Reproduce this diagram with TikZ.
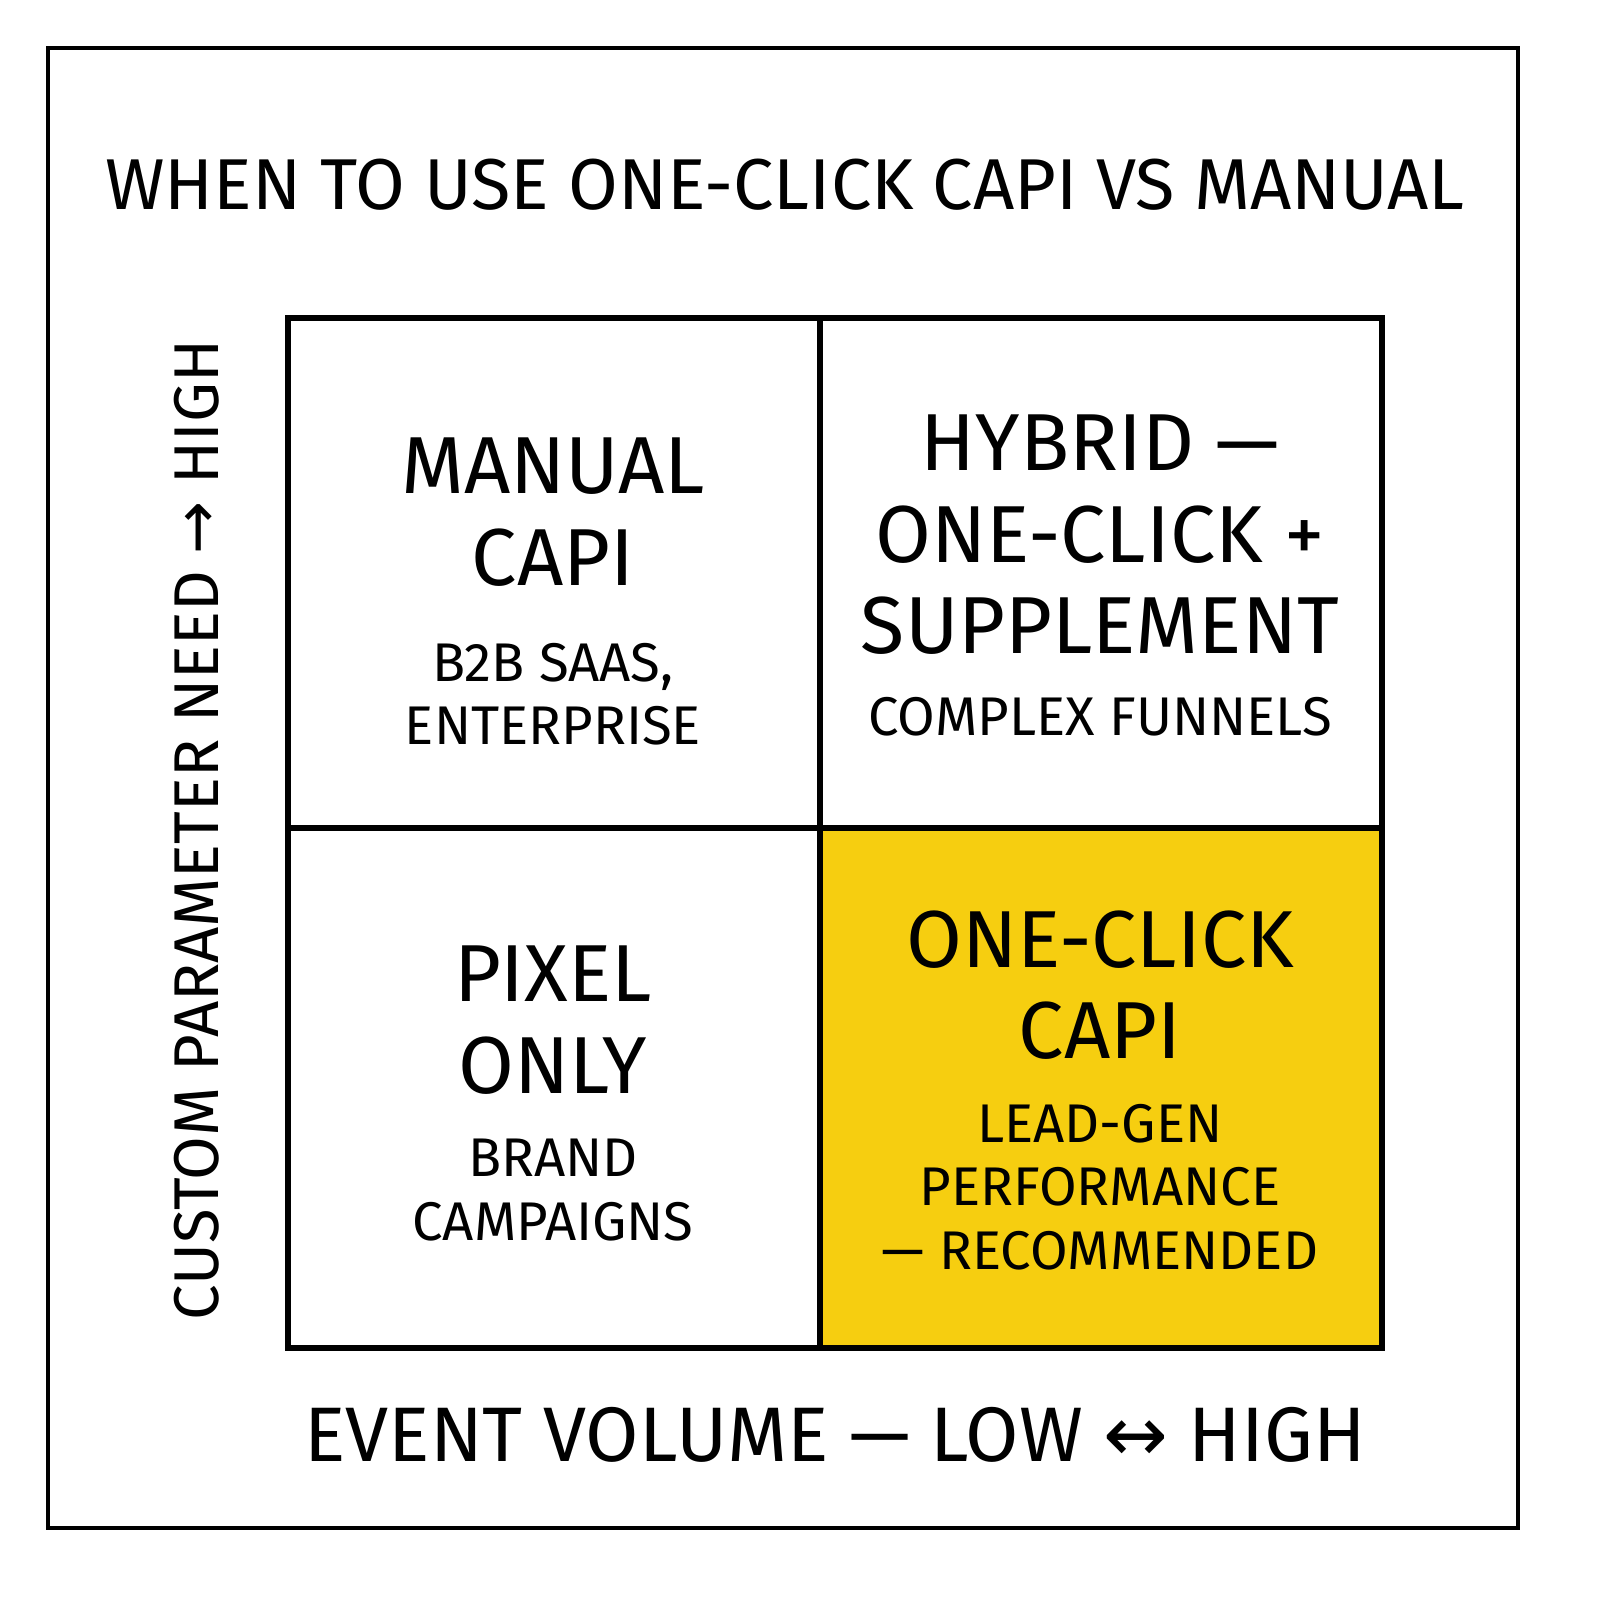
\documentclass[tikz,border=0pt]{standalone}
\usepackage{fontspec}
\setmainfont{Fira Sans}
\newfontfamily\arrowfont{DejaVu Sans}
\definecolor{pickyellow}{RGB}{246,206,16}
\tikzset{
  quadhead/.style={align=center,font=\fontsize{23}{26}\selectfont},
  quadsub/.style={align=center,font=\fontsize{15.5}{18}\selectfont},
  axislabel/.style={font=\fontsize{22}{26}\selectfont}
}
\begin{document}
\begin{tikzpicture}
				\useasboundingbox (0,0) rectangle (16,16);
				\fill[white] (0,0) rectangle (16,16);
				\draw[line width=1.2pt] (0.48,0.72) rectangle (15.18,15.52);
				\node[font=\fontsize{20.5}{24}\selectfont] (title) at (7.85,14.15) {WHEN TO USE ONE-CLICK CAPI VS MANUAL};
				\fill[pickyellow] (8.20,2.52) rectangle (13.82,7.72);
				\draw[line width=1.5pt] (2.88,2.52) rectangle (13.82,12.82);
				\draw[line width=1.5pt] (8.20,2.52) -- (8.20,12.82);
				\draw[line width=1.5pt] (2.88,7.72) -- (13.82,7.72);
				\node[quadhead] (manual) at (5.53,10.88) {MANUAL\\CAPI};
				\node[quadsub] (manualsub) at (5.53,9.06) {B2B SAAS,\\ENTERPRISE};
				\node[quadhead] (hybrid) at (11.0,10.65) {HYBRID —\\ONE-CLICK +\\SUPPLEMENT};
				\node[quadsub] (hybridsub) at (11.0,8.83) {COMPLEX FUNNELS};
				\node[quadhead] (pixel) at (5.53,5.8) {PIXEL\\ONLY};
				\node[quadsub] (pixelsub) at (5.53,4.1) {BRAND\\CAMPAIGNS};
				\node[quadhead] (oneclick) at (11.0,6.15) {ONE-CLICK\\CAPI};
				\node[quadsub] (oneclicksub) at (11.0,4.13) {LEAD-GEN\\PERFORMANCE\\— RECOMMENDED};
				\node[axislabel,rotate=90,font=\fontsize{18}{22}\selectfont] (ylabel) at (1.97,7.7) {CUSTOM PARAMETER NEED {\arrowfont →} HIGH};
				\node[axislabel] (xlabel) at (8.35,1.65) {EVENT VOLUME — LOW {\arrowfont ↔} HIGH};
			\end{tikzpicture}
\end{document}
